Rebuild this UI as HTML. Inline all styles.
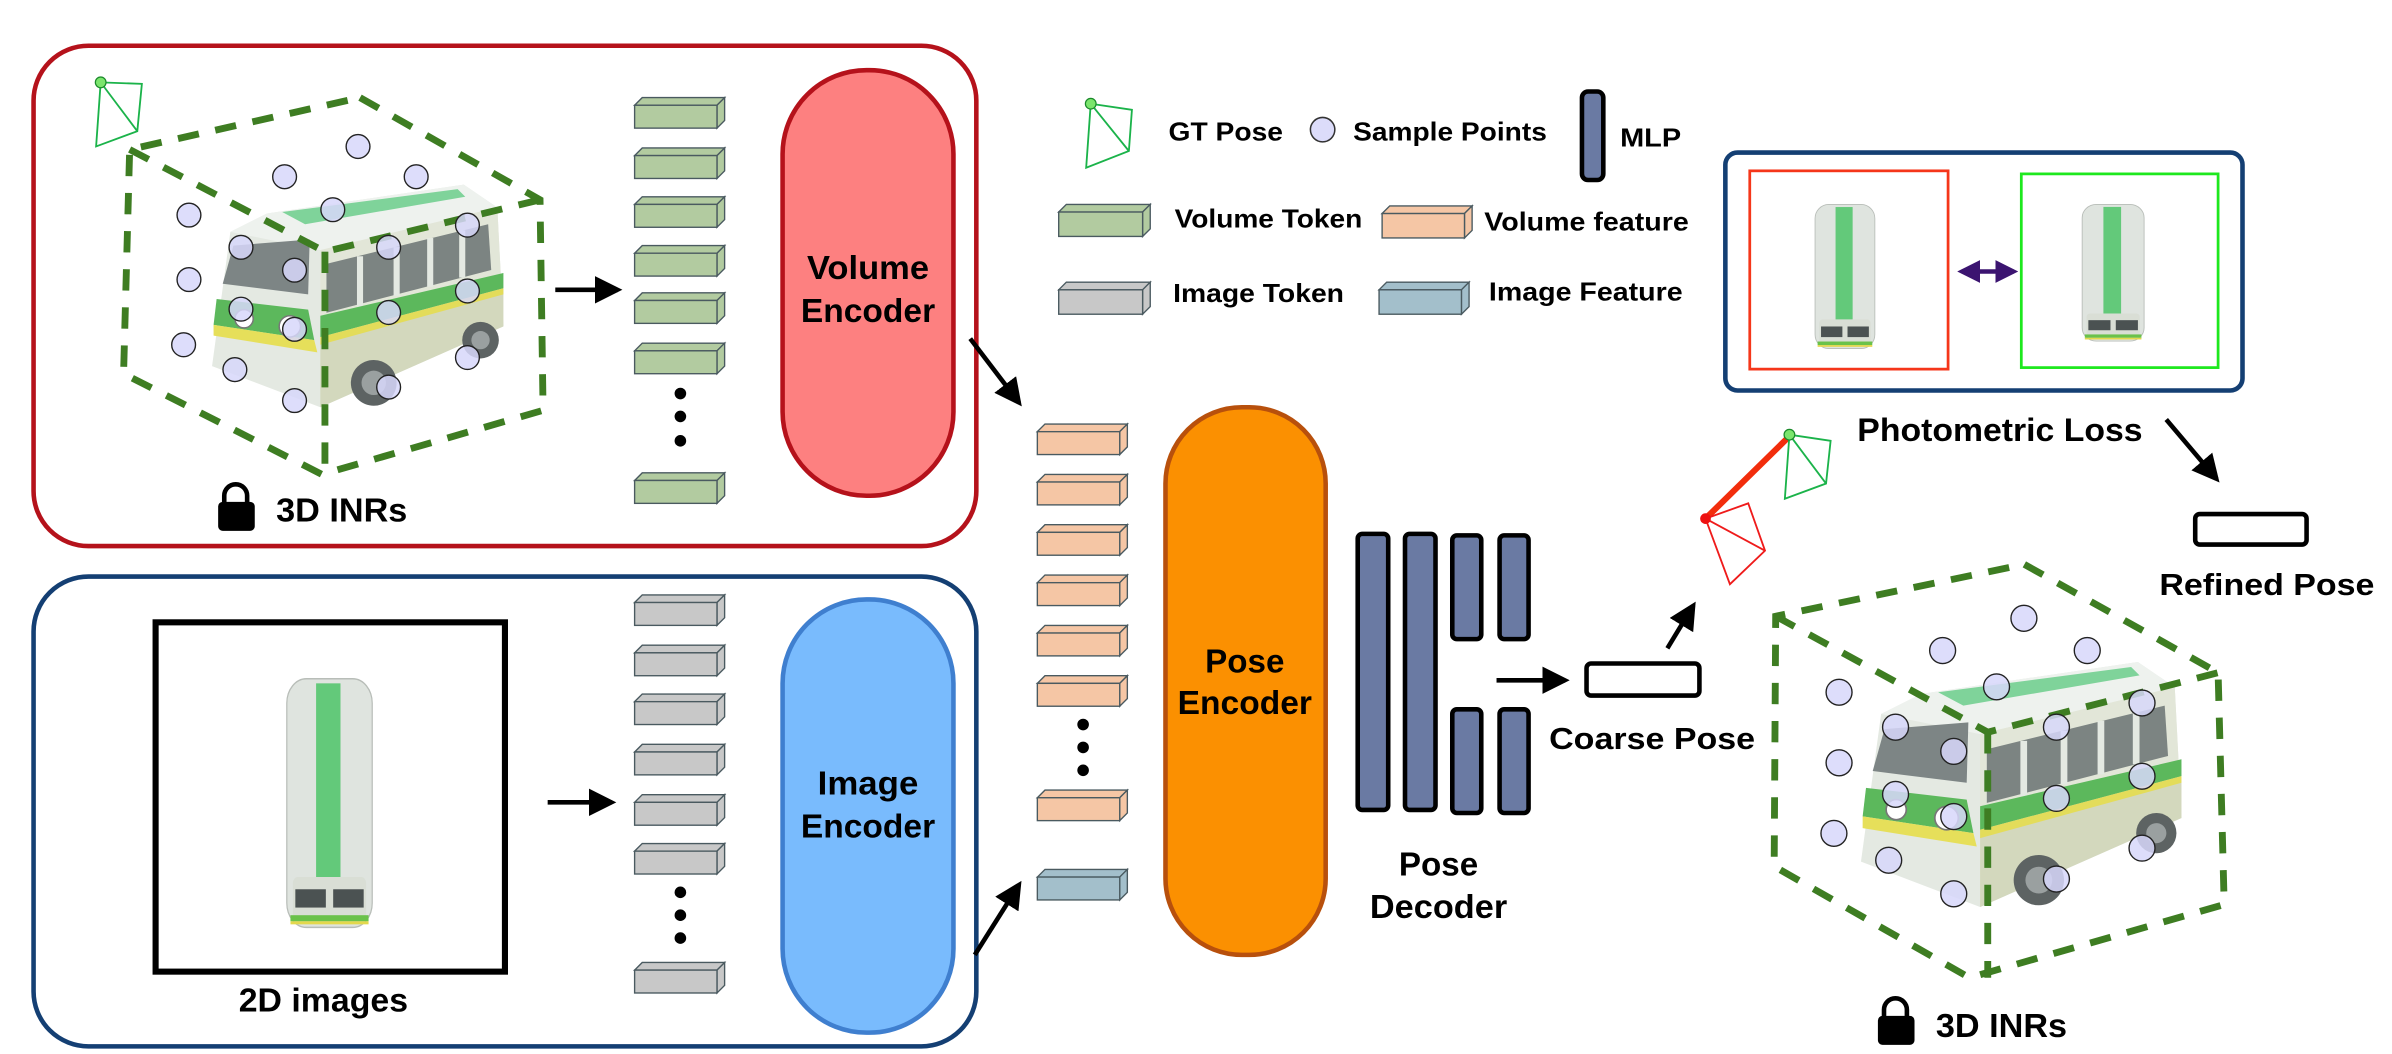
<!DOCTYPE html>
<html><head><meta charset="utf-8"><style>
html,body{margin:0;padding:0;background:#fff;}
svg{display:block;}
text{font-family:"Liberation Sans",sans-serif;font-weight:bold;fill:#000;}
</style></head><body>
<svg id="s" xmlns="http://www.w3.org/2000/svg" width="2392" height="1054" viewBox="0 0 1568 691" preserveAspectRatio="none">
<defs>
<marker id="ah" markerWidth="6" markerHeight="6" refX="5" refY="3" orient="auto" markerUnits="strokeWidth"><path d="M0,0 L6,3 L0,6 Z" fill="#000"/></marker>
<marker id="pa" markerWidth="5" markerHeight="5" refX="4" refY="2.5" orient="auto" markerUnits="strokeWidth"><path d="M0,0 L5,2.5 L0,5 Z" fill="#3b1470"/></marker>
<marker id="pb" markerWidth="5" markerHeight="5" refX="1" refY="2.5" orient="auto" markerUnits="strokeWidth"><path d="M5,0 L0,2.5 L5,5 Z" fill="#3b1470"/></marker>
<g id="bus">
 <polygon points="11,31 35,19 164,0 186,15 190,93 70,146 -1,119" fill="#e4e9e2"/>
 <polygon points="35,19 164,0 186,15 70,43 11,31" fill="#eef2ee"/>
 <polygon points="45,18 160,3 165,8 60,26" fill="#7fd39a"/>
 <polygon points="70,43 186,15 190,93 70,146" fill="#e2e6d8"/>
 <polygon points="70,100 190,68 190,93 70,146" fill="#d3d8bd"/>
 <polygon points="74,52 180,26 182,56 74,84" fill="#7c8482"/>
 <g stroke="#e4e9e2" stroke-width="4"><line x1="96" y1="47" x2="96" y2="80"/><line x1="120" y1="41" x2="120" y2="73"/><line x1="142" y1="35" x2="142" y2="67"/><line x1="163" y1="30" x2="163" y2="61"/></g>
 <polygon points="70,86 190,58 190,68 70,100" fill="#5cb85c"/>
 <polygon points="70,100 190,68 190,72 70,105" fill="#e3dc5a"/>
 <polygon points="13,40 63,36 62,72 6,65" fill="#7d8585"/>
 <polygon points="2,75 62,82 66,102 0,92" fill="#5cb85c"/>
 <polygon points="0,92 66,102 68,110 0,99" fill="#e6df5a"/>
 <circle cx="105" cy="130" r="15" fill="#5d6363"/><circle cx="105" cy="130" r="8" fill="#9aa0a0"/>
 <circle cx="175" cy="102" r="12" fill="#5d6363"/><circle cx="175" cy="102" r="6" fill="#9aa0a0"/>
 <circle cx="20" cy="88" r="6" fill="#fff" stroke="#777"/><circle cx="50" cy="93" r="7" fill="#fff" stroke="#777"/>
</g>
<g id="tbus">
 <rect x="5" y="0" width="70" height="163" rx="16" fill="#dfe4df" stroke="#b8bdb8" stroke-width="1"/>
 <rect x="29" y="3" width="20" height="130" fill="#63c97a"/>
 <rect x="10" y="130" width="60" height="28" rx="4" fill="#d9ded5"/>
 <rect x="12" y="138" width="25" height="12" fill="#4b5252"/><rect x="43" y="138" width="25" height="12" fill="#4b5252"/>
 <rect x="8" y="155" width="64" height="4" fill="#6ac24a"/>
 <rect x="8" y="159" width="64" height="2" fill="#e3d84d"/>
</g>
</defs>

<rect x="22" y="30" width="618" height="328" rx="36" fill="none" stroke="#b5121b" stroke-width="3"/>
<rect x="22" y="378" width="618" height="308" rx="36" fill="none" stroke="#143f73" stroke-width="3"/>

<use href="#bus" x="140" y="121"/>
<g fill="none" stroke="#3e7d22" stroke-width="4.5" stroke-dasharray="14 11">
 <polygon points="236,64 354,131 356,269 211,311 81,245 85,98"/>
 <polyline points="85,98 213,165 354,131"/>
 <line x1="213" y1="165" x2="213" y2="311"/>
</g>
<g id="ptsL"></g>
<g stroke="#1bb34a" stroke-width="1.2" fill="none"><polygon points="66,54 93,55 90,86 63,96"/><line x1="66" y1="54" x2="90" y2="86"/></g>
<circle cx="66" cy="54" r="3.5" fill="#7be56d" stroke="#1a8a2a" stroke-width="0.8"/>
<line x1="364" y1="190" x2="405" y2="190" stroke="#000" stroke-width="3" marker-end="url(#ah)"/>
<path d="M147,330 v-5 a7.5,7.5 0 0 1 15,0 v5" fill="none" stroke="#000" stroke-width="3"/><rect x="143" y="329" width="24" height="19" rx="3" fill="#000"/>
<text x="181" y="342" font-size="22" textLength="86" lengthAdjust="spacingAndGlyphs">3D INRs</text>

<rect x="102" y="408" width="229" height="229" fill="none" stroke="#000" stroke-width="4"/>
<use href="#tbus" transform="translate(184,445) scale(0.8,1)"/>
<line x1="359" y1="526" x2="401" y2="526" stroke="#000" stroke-width="3" marker-end="url(#ah)"/>
<text x="212" y="663" font-size="22" text-anchor="middle" textLength="111" lengthAdjust="spacingAndGlyphs">2D images</text>

<g id="tokens"></g>

<rect x="513" y="46" width="112" height="279" rx="55" fill="#fd8080" stroke="#b5121b" stroke-width="3"/>
<text x="569" y="183" font-size="22" text-anchor="middle" textLength="80" lengthAdjust="spacingAndGlyphs">Volume</text>
<text x="569" y="211" font-size="22" text-anchor="middle" textLength="88" lengthAdjust="spacingAndGlyphs">Encoder</text>
<rect x="513" y="393" width="112" height="284" rx="55" fill="#79bbfd" stroke="#3f7fcf" stroke-width="3"/>
<text x="569" y="521" font-size="22" text-anchor="middle" textLength="66" lengthAdjust="spacingAndGlyphs">Image</text>
<text x="569" y="549" font-size="22" text-anchor="middle" textLength="88" lengthAdjust="spacingAndGlyphs">Encoder</text>

<line x1="636" y1="222" x2="668" y2="264" stroke="#000" stroke-width="3" marker-end="url(#ah)"/>
<line x1="639" y1="626" x2="668" y2="580" stroke="#000" stroke-width="3" marker-end="url(#ah)"/>

<rect x="764" y="267" width="105" height="359" rx="50" fill="#fb9001" stroke="#b8500c" stroke-width="3"/>
<text x="816" y="441" font-size="22" text-anchor="middle" textLength="52" lengthAdjust="spacingAndGlyphs">Pose</text>
<text x="816" y="468" font-size="22" text-anchor="middle" textLength="88" lengthAdjust="spacingAndGlyphs">Encoder</text>

<g fill="#6a7aa3" stroke="#000" stroke-width="3">
 <rect x="890" y="350" width="20" height="181" rx="3"/>
 <rect x="921" y="350" width="20" height="181" rx="3"/>
 <rect x="952" y="351" width="19" height="68" rx="3"/>
 <rect x="983" y="351" width="19" height="68" rx="3"/>
 <rect x="952" y="465" width="19" height="68" rx="3"/>
 <rect x="983" y="465" width="19" height="68" rx="3"/>
</g>
<text x="943" y="574" font-size="22" text-anchor="middle" textLength="52" lengthAdjust="spacingAndGlyphs">Pose</text>
<text x="943" y="602" font-size="22" text-anchor="middle" textLength="90" lengthAdjust="spacingAndGlyphs">Decoder</text>

<line x1="981" y1="446" x2="1026" y2="446" stroke="#000" stroke-width="3" marker-end="url(#ah)"/>
<rect x="1040" y="435" width="74" height="21" rx="3" fill="#fff" stroke="#000" stroke-width="3"/>
<text x="1083" y="491" font-size="20" text-anchor="middle" textLength="135" lengthAdjust="spacingAndGlyphs">Coarse Pose</text>
<line x1="1093" y1="425" x2="1110" y2="397" stroke="#000" stroke-width="3" marker-end="url(#ah)"/>

<line x1="1118" y1="340" x2="1173" y2="286" stroke="#f22d0c" stroke-width="4"/>
<g stroke="#ef1b1b" stroke-width="1.2" fill="none"><polygon points="1118,340 1146,330 1157,361 1134,383"/><line x1="1118" y1="340" x2="1157" y2="361"/></g>
<circle cx="1118" cy="340" r="3.5" fill="#e11" />
<g stroke="#1bb34a" stroke-width="1.2" fill="none"><polygon points="1173,285 1200,289 1197,317 1170,327"/><line x1="1173" y1="285" x2="1197" y2="317"/></g>
<circle cx="1173" cy="285" r="3.5" fill="#7be56d" stroke="#1a8a2a" stroke-width="0.8"/>

<rect x="1131" y="100" width="339" height="156" rx="8" fill="#fff" stroke="#143f73" stroke-width="3"/>
<rect x="1147" y="112" width="130" height="130" fill="none" stroke="#f5361a" stroke-width="1.8"/>
<rect x="1325" y="114" width="129" height="127" fill="none" stroke="#1ee81e" stroke-width="1.8"/>
<use href="#tbus" transform="translate(1187,134) scale(0.56,0.58)"/>
<use href="#tbus" transform="translate(1362,134) scale(0.58,0.55)"/>
<line x1="1286" y1="178" x2="1320" y2="178" stroke="#3b1470" stroke-width="3" marker-end="url(#pa)" marker-start="url(#pb)"/>
<text x="1311" y="289" font-size="21" text-anchor="middle" textLength="187" lengthAdjust="spacingAndGlyphs">Photometric Loss</text>
<line x1="1420" y1="275" x2="1453" y2="314" stroke="#000" stroke-width="3" marker-end="url(#ah)"/>
<rect x="1439" y="337" width="73" height="20" rx="3" fill="#fff" stroke="#000" stroke-width="3"/>
<text x="1486" y="390" font-size="20" text-anchor="middle" textLength="141" lengthAdjust="spacingAndGlyphs">Refined Pose</text>

<use href="#bus" transform="translate(1221,434) scale(1.1,1.1)"/>
<g fill="none" stroke="#3e7d22" stroke-width="4.5" stroke-dasharray="14 11">
 <polygon points="1327,370 1454,441 1458,593 1291,641 1163,568 1164,404"/>
 <polyline points="1164,404 1303,480 1454,441"/>
 <line x1="1303" y1="480" x2="1303" y2="641"/>
</g>
<g id="ptsR"></g>
<path d="M1235,667 v-5 a7.5,7.5 0 0 1 15,0 v5" fill="none" stroke="#000" stroke-width="3"/><rect x="1231" y="666" width="24" height="19" rx="3" fill="#000"/>
<text x="1269" y="680" font-size="22" textLength="86" lengthAdjust="spacingAndGlyphs">3D INRs</text>

<g stroke="#1bb34a" stroke-width="1.2" fill="none"><polygon points="715,68 742,72 740,99 712,110"/><line x1="715" y1="68" x2="740" y2="99"/></g>
<circle cx="715" cy="68" r="3.5" fill="#7be56d" stroke="#1a8a2a" stroke-width="0.8"/>
<text x="766" y="92" font-size="17" textLength="75" lengthAdjust="spacingAndGlyphs">GT Pose</text>
<circle cx="867" cy="85" r="8" fill="#dcdcfa" stroke="#333" stroke-width="1"/>
<text x="887" y="92" font-size="17" textLength="127" lengthAdjust="spacingAndGlyphs">Sample Points</text>
<rect x="1037" y="60" width="14" height="58" rx="4" fill="#6a7aa3" stroke="#000" stroke-width="3"/>
<text x="1062" y="96" font-size="17" textLength="40" lengthAdjust="spacingAndGlyphs">MLP</text>
<text x="770" y="149" font-size="17" textLength="123" lengthAdjust="spacingAndGlyphs">Volume Token</text>
<text x="973" y="151" font-size="17" textLength="134" lengthAdjust="spacingAndGlyphs">Volume feature</text>
<text x="769" y="198" font-size="17" textLength="112" lengthAdjust="spacingAndGlyphs">Image Token</text>
<text x="976" y="197" font-size="17" textLength="127" lengthAdjust="spacingAndGlyphs">Image Feature</text>
</svg>
<script>
(function(){
var NS="http://www.w3.org/2000/svg";
function el(p,t,a){var e=document.createElementNS(NS,t);for(var k in a)e.setAttribute(k,a[k]);p.appendChild(e);return e;}
var tok=document.getElementById("tokens");
function token(x,y,w,h,fill){
 var d=5;
 el(tok,"polygon",{points:[x,y+d,x+d,y,x+w,y,x+w-d,y+d].join(","),fill:fill,stroke:"#4a5a60","stroke-width":0.9});
 el(tok,"polygon",{points:[x+w-d,y+d,x+w,y,x+w,y+h-d,x+w-d,y+h].join(","),fill:fill,stroke:"#4a5a60","stroke-width":0.9});
 el(tok,"rect",{x:x,y:y+d,width:w-d,height:h-d,fill:fill,stroke:"#4a5a60","stroke-width":0.9});
}
function dots(x,ys){ys.forEach(function(y){el(tok,"circle",{cx:x,cy:y,r:3.8,fill:"#000"});});}
[64,97,129,161,192,225,310].forEach(function(y){token(416,y,59,20,"#b2cba0");});
dots(446,[258,273,289]);
[390,423,455,488,521,553,631].forEach(function(y){token(416,y,59,20,"#c8c8c8");});
dots(446,[585,600,615]);
[278,311,344,377,410,443,518].forEach(function(y){token(680,y,59,20,"#f5c6a5");});
dots(710,[475,490,505]);
token(680,570,59,20,"#a3bfcb");
token(694,134,60,21,"#b2cba0");token(906,135,59,21,"#f5c6a5");
token(694,185,60,21,"#c8c8c8");token(904,185,59,21,"#a3bfcb");
var L=[[468,218],[372,263],[544,263],[247,320],[435,312],[315,368],[385,402],[508,368],[611,335],[247,416],[315,460],[385,490],[508,465],[611,433],[240,513],[307,550],[385,596],[508,576],[611,532]];
var gl=document.getElementById("ptsL");
L.forEach(function(p){el(gl,"circle",{cx:p[0]*0.5015,cy:p[1]*0.4406,r:7.8,fill:"rgba(215,215,250,0.85)",stroke:"#222","stroke-width":0.9});});
var R=[[1138,920],[1043,968],[1212,968],[922,1030],[1106,1022],[988,1082],[1056,1118],[1176,1082],[1276,1046],[922,1135],[988,1182],[1056,1215],[1176,1188],[1276,1155],[916,1240],[980,1280],[1056,1330],[1176,1308],[1276,1262]];
var gr=document.getElementById("ptsR");
R.forEach(function(p){el(gr,"circle",{cx:688.3+p[0]*0.561,cy:p[1]*0.4406,r:8.5,fill:"rgba(215,215,250,0.85)",stroke:"#222","stroke-width":0.9});});
})();
</script>
</body></html>
